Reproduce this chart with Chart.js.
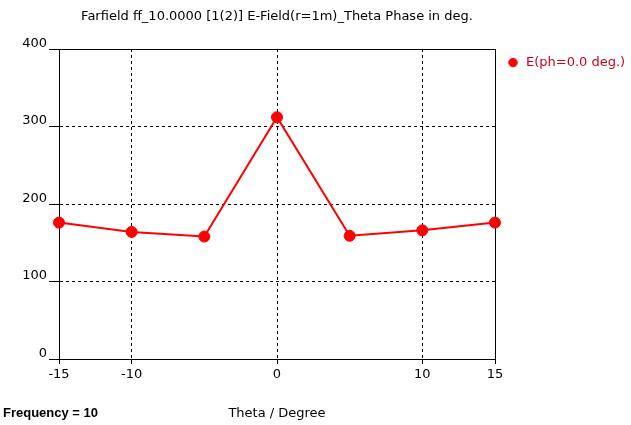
<!DOCTYPE html>
<html>
<head>
<meta charset="utf-8">
<script src="https://cdn.jsdelivr.net/npm/chart.js@4"></script>
<style>
html, body { margin: 0; padding: 0; background: #fff; }
</style>
</head>
<body>
<canvas id="chart" width="631" height="425"></canvas>
<script>
// Data
const thetaValues = [-15, -10, -5, 0, 5, 10, 15];
const phaseValues = [176, 164, 158, 312, 159, 166, 176];
const xTickValues = [-15, -10, 0, 10, 15];
const yTickValues = [0, 100, 200, 300, 400];
const seriesLabel = 'E(ph=0.0 deg.)';
const chartTitle = 'Farfield ff_10.0000 [1(2)] E-Field(r=1m)_Theta Phase in deg.';
const xAxisTitle = 'Theta / Degree';
const footerText = 'Frequency = 10';

const textFont = { family: 'DejaVu Sans', size: 13 };

// solid line at the frame edges, dashed grid inside
function dashFor(edges) {
    return ctx => (ctx.tick && edges.includes(ctx.tick.value)) ? [] : [3, 3];
}

// bottom-left footer text
const footerPlugin = {
    id: 'footer',
    afterDraw(chart) {
        const c = chart.ctx;
        c.save();
        c.font = 'bold 13px "Liberation Sans"';
        c.fillStyle = '#000';
        c.textBaseline = 'middle';
        c.textAlign = 'left';
        c.fillText(footerText, 3, 413);
        c.restore();
    }
};

const ctx = document.getElementById('chart').getContext('2d');
new Chart(ctx, {
    type: 'scatter',
    data: {
        datasets: [{
            label: seriesLabel,
            data: thetaValues.map((t, i) => ({ x: t, y: phaseValues[i] })),
            showLine: true,
            borderColor: '#ff0000',
            backgroundColor: '#ff0000',
            borderWidth: 2,
            pointRadius: 5.5,
            pointHoverRadius: 5.5,
            pointBorderWidth: 1,
            pointStyle: 'circle',
            clip: false
        }]
    },
    options: {
        responsive: false,
        animation: false,
        layout: { padding: 0 },
        plugins: {
            legend: {
                position: 'right',
                align: 'start',
                maxWidth: 136,
                title: {
                    display: true,
                    text: '',
                    font: textFont,
                    padding: { top: 0, bottom: 29 }
                },
                labels: {
                    usePointStyle: true,
                    boxWidth: 13,
                    boxHeight: 6,
                    color: '#d0001a',
                    font: textFont,
                    padding: 11.5
                }
            },
            title: { display: false },
            tooltip: { enabled: false }
        },
        scales: {
            x: {
                type: 'linear',
                position: 'bottom',
                min: -15,
                max: 15,
                afterBuildTicks: scale => { scale.ticks = xTickValues.map(v => ({ value: v })); },
                afterFit: scale => { scale.height = 66; },
                grid: {
                    color: '#000',
                    lineWidth: 1,
                    tickLength: 5,
                    tickColor: '#000'
                },
                border: { color: '#000', width: 1, dash: dashFor([-15, 15]) },
                ticks: { color: '#000', font: textFont, padding: 3, maxRotation: 0 },
                title: {
                    display: true,
                    text: xAxisTitle,
                    color: '#000',
                    font: textFont,
                    padding: { top: 0, bottom: 4 }
                }
            },
            xTop: {
                type: 'linear',
                position: 'top',
                min: -15,
                max: 15,
                afterFit: scale => { scale.height = 49; },
                grid: { display: false },
                border: { display: false },
                ticks: { display: false },
                title: {
                    display: true,
                    text: chartTitle,
                    color: '#000',
                    font: textFont,
                    padding: { top: 9, bottom: 0 }
                }
            },
            y: {
                type: 'linear',
                min: 0,
                max: 400,
                afterBuildTicks: scale => { scale.ticks = yTickValues.map(v => ({ value: v })); },
                afterFit: scale => { scale.width = 59; },
                grid: {
                    color: '#000',
                    lineWidth: 1,
                    tickLength: 10,
                    tickColor: '#000'
                },
                border: { color: '#000', width: 1, dash: dashFor([0, 400]) },
                ticks: {
                    color: '#000',
                    font: { family: 'DejaVu Sans', size: 13, lineHeight: '11px' },
                    padding: 2,
                    callback: v => [String(v), '']
                }
            }
        }
    },
    plugins: [footerPlugin]
});
</script>
</body>
</html>
